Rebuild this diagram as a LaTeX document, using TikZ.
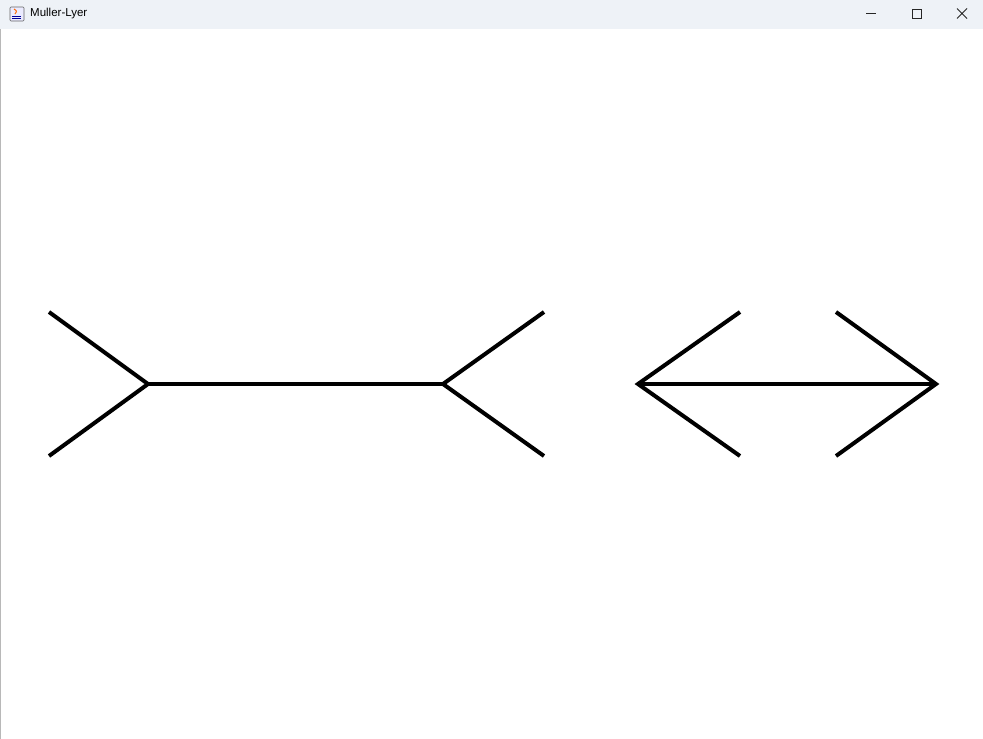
\documentclass[tikz,border=0pt]{standalone}
\usepackage{fontspec}
\setmainfont{Liberation Sans}
\definecolor{titlebg}{HTML}{EEF2F7}
\definecolor{edge}{HTML}{B8B8B8}
\tikzset{
  fin/.style={line width=4pt, line cap=butt, line join=miter, black},
  winbtn/.style={line width=0.9pt, black!85},
}
\begin{document}
\begin{tikzpicture}[x=1pt,y=-1pt]
\useasboundingbox (0,0) rectangle (983,739);
\fill[white] (0,0) rectangle (983,739);
% title bar
\fill[titlebg] (0,0) rectangle (983,29);
\draw[edge, line width=1pt] (0.5,29) -- (0.5,739);
% icon
\node[draw=black!60, fill=blue!8, rounded corners=1pt, minimum width=14pt, minimum height=14pt, inner sep=0pt, line width=0.6pt] (icon) at (17,14) {};
\draw[orange!80!red, line width=1pt] (14,9) .. controls (17,11) .. (15,14);
\draw[blue!60!black, line width=0.8pt] (12,16) -- (21,16) (12,18.5) -- (21,18.5);
\node[anchor=west, font=\fontsize{11.5}{13}\selectfont, inner sep=0pt] (title) at (30,14) {Muller-Lyer};
% window buttons
\coordinate (minA) at (866,13.5); \coordinate (minB) at (876,13.5);
\draw[winbtn] (minA) -- (minB);
\draw[winbtn] (912,9) rectangle (921,18);
\coordinate (xA) at (957,8.5); \coordinate (xB) at (967,18.5);
\coordinate (xC) at (957,18.5); \coordinate (xD) at (967,8.5);
\draw[winbtn] (xA) -- (xB) (xC) -- (xD);
% left figure (fins outward)
\coordinate (L1) at (148,384); \coordinate (L2) at (443,384);
\coordinate (L1t) at (49,312); \coordinate (L1b) at (49,456);
\coordinate (L2t) at (544,312); \coordinate (L2b) at (544,456);
\draw[fin] (L1) -- (L2);
\draw[fin] (L1t) -- (L1) -- (L1b);
\draw[fin] (L2t) -- (L2) -- (L2b);
% right figure (arrowheads)
\coordinate (R1) at (638,384); \coordinate (R2) at (936,384);
\coordinate (R1t) at (740,312); \coordinate (R1b) at (740,456);
\coordinate (R2t) at (836,312); \coordinate (R2b) at (836,456);
\draw[fin] (R1) -- (R2);
\draw[fin] (R1t) -- (R1) -- (R1b);
\draw[fin] (R2t) -- (R2) -- (R2b);
\end{tikzpicture}
\end{document}
